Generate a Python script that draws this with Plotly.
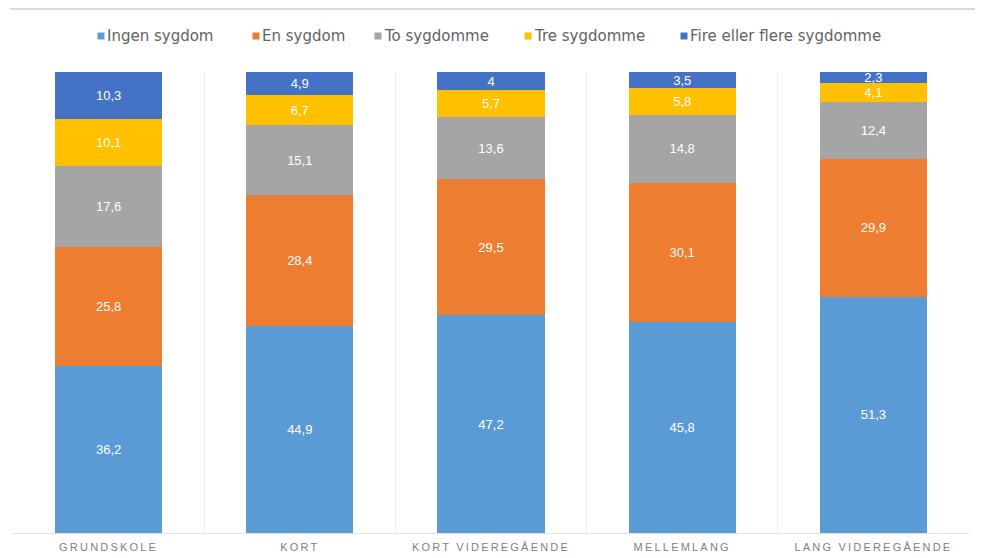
import plotly.graph_objects as go

categories = ["GRUNDSKOLE", "KORT", "KORT VIDEREGÅENDE", "MELLEMLANG", "LANG VIDEREGÅENDE"]
series_names = ["Ingen sygdom", "En sygdom", "To sygdomme", "Tre sygdomme", "Fire eller flere sygdomme"]
ingen = [36.2, 44.9, 47.2, 45.8, 51.3]
en = [25.8, 28.4, 29.5, 30.1, 29.9]
to = [17.6, 15.1, 13.6, 14.8, 12.4]
tre = [10.1, 6.7, 5.7, 5.8, 4.1]
fire = [10.3, 4.9, 4.0, 3.5, 2.3]
colors = ["#5B9BD5", "#ED7D31", "#A5A5A5", "#FFC000", "#4472C4"]

# figure geometry (the page adds an 8px body margin)
W, H = 975, 550
L, R, T, B = 5, 14, 64, 25
PW, PH = W - L - R, H - T - B

def px(x):
    return (x - L) / PW

def py(y):
    return (H - B - y) / PH

fig = go.Figure()
for name, vals, col in zip(series_names, [ingen, en, to, tre, fire], colors):
    fig.add_trace(go.Bar(
        name=name, x=categories, y=vals, marker=dict(color=col, line=dict(width=0)),
        text=vals, texttemplate="%{y}", textposition="inside", insidetextanchor="middle",
        textfont=dict(color="white", size=13, family="Liberation Sans"),
        textangle=0, constraintext="none", showlegend=False,
    ))

# legend drawn as small squares + text
legend_marker_x = [93, 248, 370, 520, 676]
legend_y = 28
shapes = [dict(type="line", xref="paper", yref="paper", x0=px(2), x1=px(W),
               y0=py(1), y1=py(1), line=dict(color="#D9D9D9", width=2))]
annotations = []
for name, col, mx in zip(series_names, colors, legend_marker_x):
    shapes.append(dict(type="rect", xref="paper", yref="paper",
                       x0=px(mx - 3.5), x1=px(mx + 3.5), y0=py(legend_y + 3.5), y1=py(legend_y - 3.5),
                       fillcolor=col, line=dict(width=0)))
    annotations.append(dict(text=name, xref="paper", yref="paper", x=px(mx + 4), y=py(legend_y),
                            xanchor="left", yanchor="middle", showarrow=False,
                            font=dict(size=15, color="#636363", family="DejaVu Sans")))

ticktext = ['<span style="letter-spacing:2.2px">' + c + '</span>' for c in categories]

fig.update_layout(
    barmode="stack",
    bargap=0.44,
    width=W, height=H,
    margin=dict(l=L, r=R, t=T, b=B, autoexpand=False),
    paper_bgcolor="white", plot_bgcolor="white",
    separators=",.",
    showlegend=False,
    xaxis=dict(tickson="boundaries", showgrid=True, gridcolor="#EDEDED", gridwidth=1,
               showline=True, linecolor="#E3E3E3", ticks="", ticklabelstandoff=4,
               tickmode="array", tickvals=categories, ticktext=ticktext,
               tickfont=dict(size=11, color="#7F7F7F", family="Liberation Sans")),
    yaxis=dict(range=[0, 100], showgrid=False, showticklabels=False, zeroline=False),
    shapes=shapes,
    annotations=annotations,
)

fig.write_html("out.html")
